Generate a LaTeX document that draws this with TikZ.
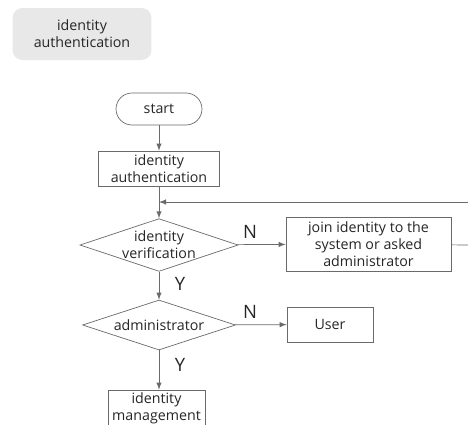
\documentclass[tikz,border=0pt]{standalone}
\usepackage{fontspec}
\setmainfont{Open Sans}
\usetikzlibrary{shapes.geometric}
\definecolor{edge}{HTML}{6A6A6A}
\definecolor{ink}{HTML}{262626}
\tikzset{
  base/.style={draw=edge,fill=white,text=ink,align=center,inner sep=0pt,
    font=\fontsize{8.1}{9.8}\selectfont},
  box/.style={base,rectangle,minimum width=#1},
  term/.style={base,rectangle,rounded corners=0.32cm,minimum width=1.72cm,minimum height=0.64cm},
  decide/.style={base,diamond,aspect=3,minimum width=3.06cm,minimum height=1cm},
  yn/.style={text=ink,font=\fontsize{10.5}{12}\selectfont},
  flow/.style={draw=edge,->,>=latex}
}
\begin{document}
\begin{tikzpicture}[x=0.02cm,y=-0.02cm]
  \useasboundingbox (0,0) rectangle (468,424);
  \clip (0,0) rectangle (468,424);

  \path
  (82,34) node[rectangle,rounded corners=0.2cm,fill=black!9,text=ink,align=center,
    minimum width=2.78cm,minimum height=1.04cm,font=\fontsize{8.1}{9.8}\selectfont]
    (tag) {identity\\authentication}
  (159,109) node[term] (start) {start}
  (159,168.5) node[box=2.42cm,minimum height=0.7cm] (auth) {identity\\authentication}
  (159,245) node[decide] (verify) {identity\\verification}
  (368.5,244) node[box=3.3cm,minimum height=1.08cm] (join) {join identity to the\\system or asked\\administrator}
  (159,325) node[decide] (admin) {administrator}
  (330,324.5) node[box=1.72cm,minimum height=0.7cm] (user) {User}
  (156.5,408) node[box=1.94cm,minimum height=0.72cm] (manage) {identity\\management}
  ;

  \coordinate (back) at (159,202);
  \coordinate (out) at (468,245);
  \coordinate (in) at (468,202);

  \draw[flow] (start) -- (auth);
  \draw[flow] (auth) -- (verify);
  \draw[flow] (in) -- (back);
  \draw[flow] (verify) -- (join);
  \draw[draw=edge] (join) -- (out);
  \draw[flow] (verify) -- (admin);
  \draw[flow] (admin) -- (user);
  \draw[flow] (admin.south) -- (admin.south |- manage.north);

  \node[yn] (n1) at (250,232) {N};
  \node[yn] (y1) at (180,284) {Y};
  \node[yn] (n2) at (250,312) {N};
  \node[yn] (y2) at (180,365) {Y};
\end{tikzpicture}
\end{document}
